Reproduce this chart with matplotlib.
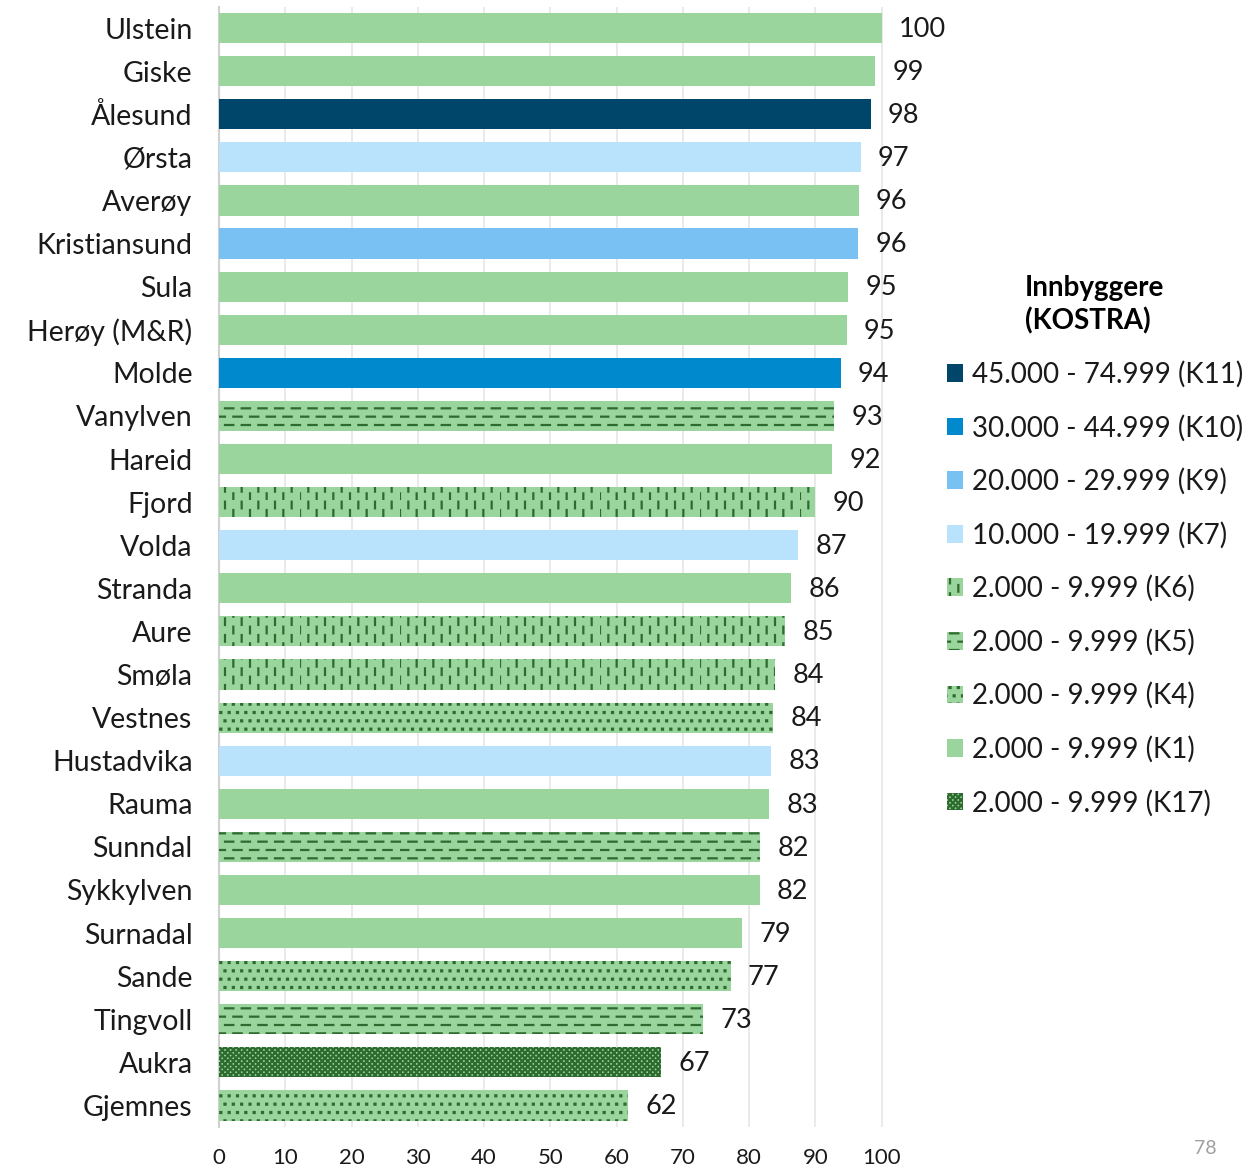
import matplotlib
matplotlib.use("Agg")
import numpy as np
import matplotlib.pyplot as plt
import matplotlib.hatch as mhatch
from matplotlib.path import Path
from matplotlib.patches import Patch

plt.rcParams['font.family'] = ['Lato', 'DejaVu Sans']
plt.rcParams['hatch.color'] = '#2E6B2E'
plt.rcParams['hatch.linewidth'] = 1.6


# ---- custom hatch patterns: dashed horizontal, dashed vertical, square dots ----
class DashedHorizontal(mhatch.HatchPatternBase):
    def __init__(self, hatch, density):
        self.rows = hatch.count('-') * density
        self.m = 6
        self.num_vertices = self.rows * (self.m + 1) * 2

    def set_vertices_and_codes(self, vertices, codes):
        k = 0
        for i in range(self.rows):
            y = i / self.rows
            off = (i % 2) * 0.5 / self.m
            for j in range(-1, self.m):
                x0 = off + j / self.m
                vertices[k] = (x0, y)
                vertices[k + 1] = (x0 + 0.5 / self.m, y)
                codes[k] = Path.MOVETO
                codes[k + 1] = Path.LINETO
                k += 2


class DashedVertical(mhatch.HatchPatternBase):
    def __init__(self, hatch, density):
        self.cols = hatch.count('|') * density
        self.m = 6
        self.num_vertices = self.cols * (self.m + 1) * 2

    def set_vertices_and_codes(self, vertices, codes):
        k = 0
        for i in range(self.cols):
            x = i / self.cols
            off = (i % 2) * 0.5 / self.m
            for j in range(-1, self.m):
                y0 = off + j / self.m
                vertices[k] = (x, y0)
                vertices[k + 1] = (x, y0 + 0.4 / self.m)
                codes[k] = Path.MOVETO
                codes[k + 1] = Path.LINETO
                k += 2


class SquareDots(mhatch.HatchPatternBase):
    def __init__(self, hatch, density):
        self.rows = hatch.count('.') * density
        self.num_vertices = self.rows * (self.rows + 1) * 5

    def set_vertices_and_codes(self, vertices, codes):
        k = 0
        s = 0.005
        n = self.rows
        for i in range(n):
            y = (i + 0.5) / n
            off = (i % 2) * 0.5 / n
            for j in range(-1, n):
                x = off + (j + 0.5) / n
                vertices[k:k + 5] = [(x - s, y - s), (x + s, y - s), (x + s, y + s),
                                     (x - s, y + s), (x - s, y - s)]
                codes[k:k + 5] = [Path.MOVETO, Path.LINETO, Path.LINETO, Path.LINETO,
                                  Path.CLOSEPOLY]
                k += 5


mhatch._hatch_types = [DashedHorizontal, DashedVertical, mhatch.NorthEastHatch,
                       mhatch.SouthEastHatch, SquareDots]

# ---- data ----
kommuner = ["Ulstein", "Giske", "Ålesund", "Ørsta", "Averøy", "Kristiansund", "Sula",
            "Herøy (M&R)", "Molde", "Vanylven", "Hareid", "Fjord", "Volda", "Stranda",
            "Aure", "Smøla", "Vestnes", "Hustadvika", "Rauma", "Sunndal", "Sykkylven",
            "Surnadal", "Sande", "Tingvoll", "Aukra", "Gjemnes"]
verdier = [100, 99, 98.3, 96.8, 96.5, 96.4, 94.9, 94.7, 93.8, 92.8, 92.5, 90.0, 87.4,
           86.3, 85.4, 83.9, 83.6, 83.3, 83.0, 81.7, 81.6, 78.9, 77.2, 73.0, 66.7, 61.7]
grupper = ["K1", "K1", "K11", "K7", "K1", "K9", "K1", "K1", "K10", "K5", "K1", "K6", "K7",
           "K1", "K6", "K6", "K4", "K7", "K1", "K5", "K1", "K1", "K4", "K5", "K17", "K4"]

legend_keys = ["K11", "K10", "K9", "K7", "K6", "K5", "K4", "K1", "K17"]
legend_labels = ["45.000 - 74.999 (K11)", "30.000 - 44.999 (K10)", "20.000 - 29.999 (K9)",
                 "10.000 - 19.999 (K7)", "2.000 - 9.999 (K6)", "2.000 - 9.999 (K5)",
                 "2.000 - 9.999 (K4)", "2.000 - 9.999 (K1)", "2.000 - 9.999 (K17)"]

green = '#9AD59D'
style = {
    "K11": dict(color='#00466A', hatch=None),
    "K10": dict(color='#0089CD', hatch=None),
    "K9": dict(color='#78C1F2', hatch=None),
    "K7": dict(color='#B9E3FC', hatch=None),
    "K6": dict(color=green, hatch='||'),
    "K5": dict(color=green, hatch='--'),
    "K4": dict(color=green, hatch='..'),
    "K1": dict(color=green, hatch=None),
    "K17": dict(color=green, hatch='xxxxxx'),
}

fig = plt.figure(figsize=(12.54, 11.71), dpi=100)
ax = fig.add_axes([0.1746, 0.0376, 0.555, 0.9568])

ypos = list(range(len(kommuner)))
for y, v, g in zip(ypos, verdier, grupper):
    s = style[g]
    ax.barh(y, v, height=0.7, color=s['color'], hatch=s['hatch'],
            edgecolor='#2E6B2E' if s['hatch'] else s['color'], linewidth=0, zorder=3)
    ax.text(v + 2.6, y + 0.03, f"{round(v):d}", va='center', ha='left', fontsize=19.5,
            color='#1a1a1a')

ax.set_ylim(len(kommuner) - 0.5, -0.5)
ax.set_xlim(0, 105)
ax.set_yticks(ypos)
ax.set_yticklabels(kommuner, fontsize=20.5)
ax.set_xticks(range(0, 101, 10))
ax.tick_params(axis='x', labelsize=16, length=0, pad=15, colors='#1a1a1a')
ax.tick_params(axis='y', length=0, pad=19, colors='#1a1a1a')
ax.grid(axis='x', color='#E6E6E6', linewidth=1.2, zorder=0)
for sp in ['top', 'right', 'bottom']:
    ax.spines[sp].set_visible(False)
ax.spines['left'].set_color('#D0D0D0')
ax.spines['left'].set_linewidth(1.5)

handles = [Patch(facecolor=style[k]['color'], hatch=style[k]['hatch'],
                 edgecolor='#2E6B2E' if style[k]['hatch'] else style[k]['color'], linewidth=0)
           for k in legend_keys]
leg = fig.legend(handles, legend_labels, loc='upper left', bbox_to_anchor=(0.746, 0.775),
                 frameon=False, fontsize=20, handlelength=0.6, handleheight=0.6,
                 handletextpad=0.3, labelspacing=0.96, borderaxespad=0,
                 title="Innbyggere\n(KOSTRA)",
                 title_fontproperties={'weight': 'bold', 'size': 20})
leg._legend_box.align = 'center'
leg.get_title().set_linespacing(1.3)
for t in leg.get_texts():
    t.set_color('#1a1a1a')

fig.text(0.961, 0.012, "78", fontsize=14, color='#A0A0A0', ha='center', va='bottom')

fig.savefig("out.png", dpi=100)
